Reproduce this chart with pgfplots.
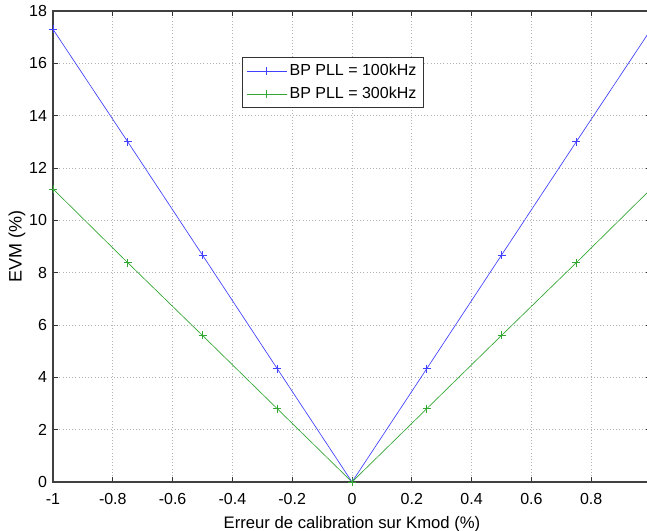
\documentclass[border=0pt]{standalone}
\usepackage{fontspec}
\setmainfont{Liberation Sans}
\usepackage{pgfplots}
\pgfplotsset{compat=1.18}
\definecolor{mblue}{rgb}{0.25,0.25,1}
\definecolor{mgreen}{rgb}{0.2,0.65,0.2}
\begin{document}
\begin{tikzpicture}
\begin{axis}[
  at={(39.75pt,36.75pt)}, anchor=south west,
  scale only axis, width=448.5pt, height=353.25pt,
  xmin=-1, xmax=1, ymin=0, ymax=18,
  xtick={-1,-0.8,-0.6,-0.4,-0.2,0,0.2,0.4,0.6,0.8},
  xticklabels={-1,-0.8,-0.6,-0.4,-0.2,0,0.2,0.4,0.6,0.8},
  ytick={0,2,...,18},
  tick align=inside, major tick length=4pt,
  tick style={black!80, line width=0.6pt},
  axis line style={black!75, line width=0.8pt},
  grid=major,
  major grid style={gray!60, dotted, line width=0.5pt},
  ticklabel style={font=\fontsize{12}{14}\selectfont},
  xticklabel style={yshift=-5pt},
  yticklabel style={xshift=-1pt},
  /pgf/number format/assume math mode=true,
  xlabel={Erreur de calibration sur Kmod (\%)},
  ylabel={EVM (\%)},
  xlabel style={font=\fontsize{12.5}{14}\selectfont, yshift=-2pt},
  ylabel style={font=\fontsize{13.5}{15}\selectfont, yshift=-4pt},
  legend style={at={(0.316,0.902)}, anchor=north west, draw=black!80, line width=0.7pt,
    font=\fontsize{12}{14}\selectfont, row sep=3pt, inner sep=3pt},
  legend cell align=left,
  legend image code/.code={\draw[#1] (0cm,0cm) -- (1.05cm,0cm); \draw[#1, mark repeat=1] plot coordinates {(0.52cm,0cm)};},
]
\addplot[mblue, line width=0.5pt, mark=+, mark size=3pt, mark options={line width=0.6pt}] coordinates {
(-1,17.3) (-0.75,13.0) (-0.5,8.67) (-0.25,4.33) (0,0) (0.25,4.33) (0.5,8.67) (0.75,13.0) (1,17.3)};
\addlegendentry{BP PLL = 100kHz}
\addplot[mgreen, line width=0.5pt, mark=+, mark size=3pt, mark options={line width=0.6pt}] coordinates {
(-1,11.2) (-0.75,8.38) (-0.5,5.6) (-0.25,2.8) (0,0) (0.25,2.8) (0.5,5.6) (0.75,8.38) (1,11.2)};
\addlegendentry{BP PLL = 300kHz}
\end{axis}
\pgfresetboundingbox
\useasboundingbox (0,0) rectangle (485.25pt,398.25pt);
\end{tikzpicture}
\end{document}
